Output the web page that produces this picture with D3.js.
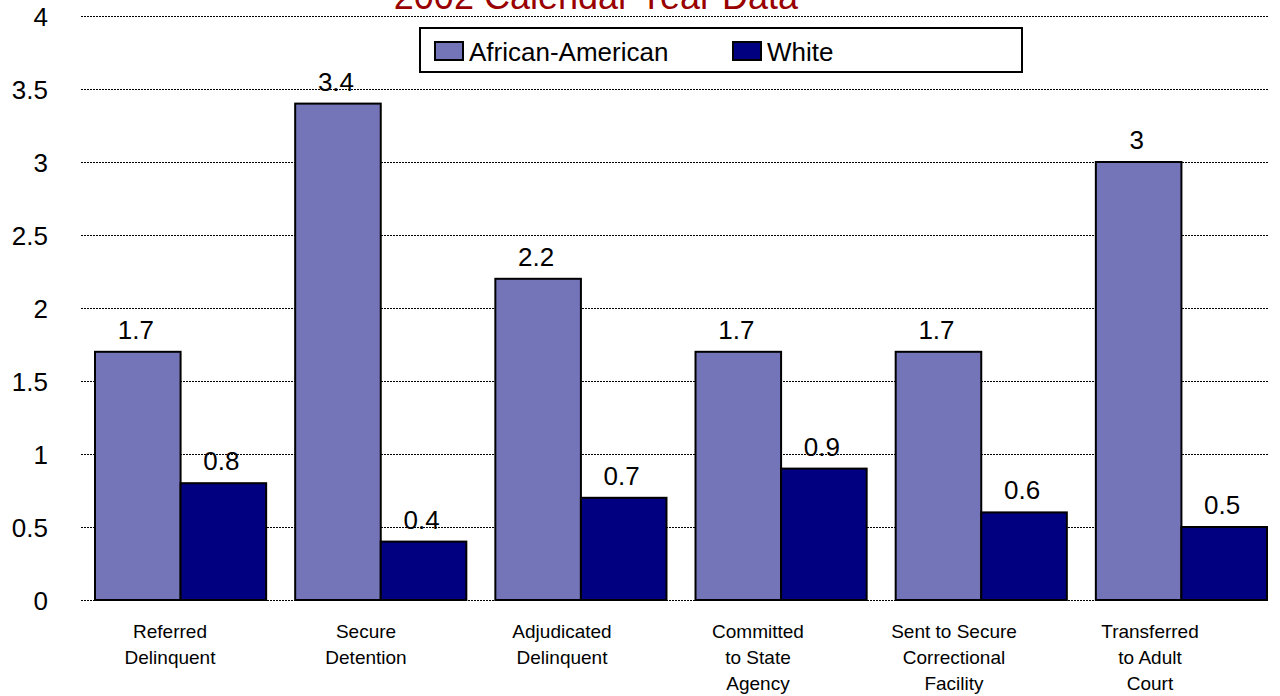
<!DOCTYPE html>
<html>
<head>
<meta charset="utf-8">
<script src="https://cdn.jsdelivr.net/npm/d3@7"></script>
<style>
  html, body { margin: 0; padding: 0; background: #fff; }
  svg text { font-family: Arial, "Liberation Sans", sans-serif; fill: #000; }
</style>
</head>
<body>
<svg id="chart" width="1280" height="696"></svg>
<script>
const categories = [
  ['Referred', 'Delinquent'],
  ['Secure', 'Detention'],
  ['Adjudicated', 'Delinquent'],
  ['Committed', 'to State', 'Agency'],
  ['Sent to Secure', 'Correctional', 'Facility'],
  ['Transferred', 'to Adult', 'Court'],
]
const seriesNames = ['African-American', 'White']
const africanAmerican = [1.7, 3.4, 2.2, 1.7, 1.7, 3.0]
const white = [0.8, 0.4, 0.7, 0.9, 0.6, 0.5]
const yTicks = [0, 0.5, 1, 1.5, 2, 2.5, 3, 3.5, 4]
const colors = ['#7474b8', '#000080']
const title = '2002 Calendar Year Data'

const svg = d3.select('#chart')
const plot = {left: 81, right: 1268, top: 16, bottom: 600}

// bars run a little past the gridline end, as in the original
const x = d3.scaleBand()
  .domain(d3.range(categories.length))
  .range([plot.left, plot.left + 1200])
  .paddingInner(0.145)
  .paddingOuter(0.07)
const xSub = d3.scaleBand().domain([0, 1]).range([0, x.bandwidth()])
const y = d3.scaleLinear().domain([0, 4]).range([plot.bottom, plot.top])
// category labels sit on their own, slightly tighter spacing
const xLabel = d3.scalePoint()
  .domain(d3.range(categories.length))
  .range([170, 1150])

// gridlines
svg.append('g')
  .selectAll('line')
  .data(yTicks)
  .join('line')
  .attr('x1', plot.left)
  .attr('x2', plot.right)
  .attr('y1', (d) => y(d) + 0.5)
  .attr('y2', (d) => y(d) + 0.5)
  .attr('stroke', '#000')
  .attr('stroke-width', 1)
  .attr('stroke-dasharray', '2,1')

// y tick labels
svg.append('g')
  .selectAll('text')
  .data(yTicks)
  .join('text')
  .attr('x', 48)
  .attr('y', (d) => y(d) + 3)
  .attr('text-anchor', 'end')
  .attr('dominant-baseline', 'middle')
  .style('font-size', '26px')
  .text((d) => d3.format('~g')(d))

// title, clipped at top edge
svg.append('text')
  .attr('x', 596)
  .attr('y', 9)
  .attr('text-anchor', 'middle')
  .style('font-size', '36px')
  .style('fill', '#990000')
  .text(title)

const data = categories.map((c, i) => ({i, values: [africanAmerican[i], white[i]]}))

const groups = svg.append('g')
  .selectAll('g')
  .data(data)
  .join('g')
  .attr('transform', (d) => `translate(${x(d.i)},0)`)

groups.selectAll('rect')
  .data((d) => d.values.map((v, s) => ({v, s})))
  .join('rect')
  .attr('x', (d) => xSub(d.s))
  .attr('y', (d) => y(d.v))
  .attr('width', xSub.bandwidth())
  .attr('height', (d) => y(0) - y(d.v))
  .attr('fill', (d) => colors[d.s])
  .attr('stroke', '#000')
  .attr('stroke-width', 2)

groups.selectAll('text.value')
  .data((d) => d.values.map((v, s) => ({v, s})))
  .join('text')
  .attr('class', 'value')
  .attr('x', (d) => xSub(d.s) + xSub.bandwidth() / 2 - 2)
  .attr('y', (d) => y(d.v) - 13)
  .attr('text-anchor', 'middle')
  .style('font-size', '26px')
  .text((d) => d3.format('~g')(d.v))

// category labels
const catLabels = svg.append('g')
  .selectAll('text')
  .data(data)
  .join('text')
  .attr('text-anchor', 'middle')
  .style('font-size', '19px')
  .attr('transform', (d) => `translate(${xLabel(d.i)},638)`)

catLabels.selectAll('tspan')
  .data((d) => categories[d.i])
  .join('tspan')
  .attr('x', 0)
  .attr('y', (d, k) => k * 26)
  .text((d) => d)

// legend
const legend = svg.append('g').attr('transform', 'translate(420,28)')
legend.append('rect')
  .attr('width', 602)
  .attr('height', 44)
  .attr('fill', '#fff')
  .attr('stroke', '#000')
  .attr('stroke-width', 2)

const legendX = [15, 313]
const items = legend.selectAll('g')
  .data(seriesNames)
  .join('g')
  .attr('transform', (d, i) => `translate(${legendX[i]},14)`)
items.append('rect')
  .attr('width', 28)
  .attr('height', 18)
  .attr('fill', (d, i) => colors[i])
  .attr('stroke', '#000')
  .attr('stroke-width', 2)
items.append('text')
  .attr('x', 34)
  .attr('y', 19)
  .style('font-size', '26px')
  .text((d) => d)
</script>
</body>
</html>
